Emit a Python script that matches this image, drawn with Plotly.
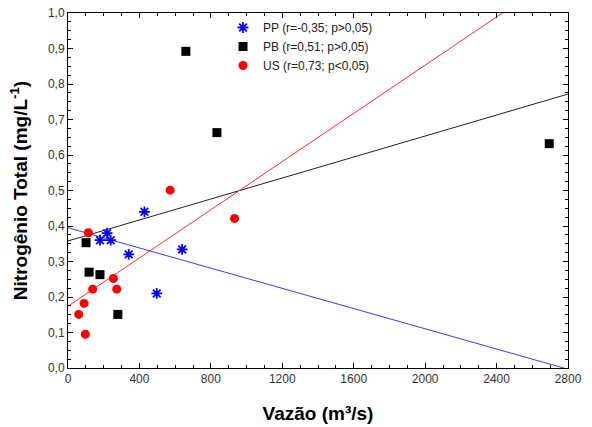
import numpy as np
import plotly.graph_objects as go

# PP series
pp_x = [179, 219, 239, 340, 428, 497, 639]
pp_y = [0.36, 0.38, 0.36, 0.32, 0.44, 0.21, 0.334]
# PB series
pb_x = [101, 118, 179, 279, 660, 834, 2695]
pb_y = [0.353, 0.270, 0.263, 0.151, 0.892, 0.663, 0.632]
# US series
us_x = [60, 90, 97, 114, 138, 254, 273, 572, 933]
us_y = [0.151, 0.182, 0.095, 0.381, 0.222, 0.252, 0.222, 0.501, 0.421]

names = ["PP (r=-0,35; p>0,05)", "PB (r=0,51; p>0,05)", "US (r=0,73; p<0,05)"]
x_range = [0, 2800]
y_range = [0, 1.0]

FONT = "Liberation Sans, Arial, sans-serif"

series = [
    (pp_x, pp_y, names[0], "#3b3bff", dict(symbol="asterisk-open", size=9, color="#0000ff", line=dict(color="#0000ff", width=1.8))),
    (pb_x, pb_y, names[1], "#222222", dict(symbol="square", size=9, color="#000000")),
    (us_x, us_y, names[2], "#ff2a2a", dict(symbol="circle", size=9, color="#ff0000")),
]

fig = go.Figure()
for xs, ys, name, lcol, mk in series:
    slope, intercept = np.polyfit(xs, ys, 1)
    lx = np.array(x_range, dtype=float)
    fig.add_trace(go.Scatter(x=lx, y=slope * lx + intercept, mode="lines",
                             line=dict(color=lcol, width=1), showlegend=False,
                             hoverinfo="skip"))
for xs, ys, name, lcol, mk in series:
    fig.add_trace(go.Scatter(x=xs, y=ys, mode="markers", name=name,
                             marker=mk, showlegend=True))

axis_common = dict(showline=True, linecolor="#000000", linewidth=1, mirror="ticks",
                   ticks="inside", ticklen=5, tickcolor="#000000", showgrid=False,
                   zeroline=False, automargin=False,
                   tickfont=dict(family=FONT, size=12, color="#333333"))

fig.update_xaxes(range=x_range, dtick=400, tick0=0, tickformat="d",
                 minor=dict(ticks="inside", dtick=100, ticklen=3, tickcolor="#000000"),
                 title=dict(text="<b>Vazão (m³/s)</b>", font=dict(family=FONT, size=19, color="#000000"), standoff=21),
                 **axis_common)
fig.update_yaxes(range=y_range, dtick=0.1, tick0=0, tickformat=".1f",
                 minor=dict(ticks="inside", dtick=0.025, ticklen=3, tickcolor="#000000"),
                 title=dict(text="<b>Nitrogênio Total (mg/L<sup>-1</sup>)</b>", font=dict(family=FONT, size=19, color="#000000"), standoff=15),
                 **axis_common)

fig.update_layout(
    width=592, height=427,
    margin=dict(l=68, r=24, t=13, b=59),
    paper_bgcolor="white", plot_bgcolor="white",
    separators=",.",
    legend=dict(x=0.31, y=1.0, xanchor="left", yanchor="top",
                bgcolor="rgba(0,0,0,0)", font=dict(family=FONT, size=12, color="#222222"),
                tracegroupgap=0, itemwidth=30),
    showlegend=True,
)

fig.write_html("out.html", config={"displayModeBar": False},
               post_script="document.body.style.margin='0';")
